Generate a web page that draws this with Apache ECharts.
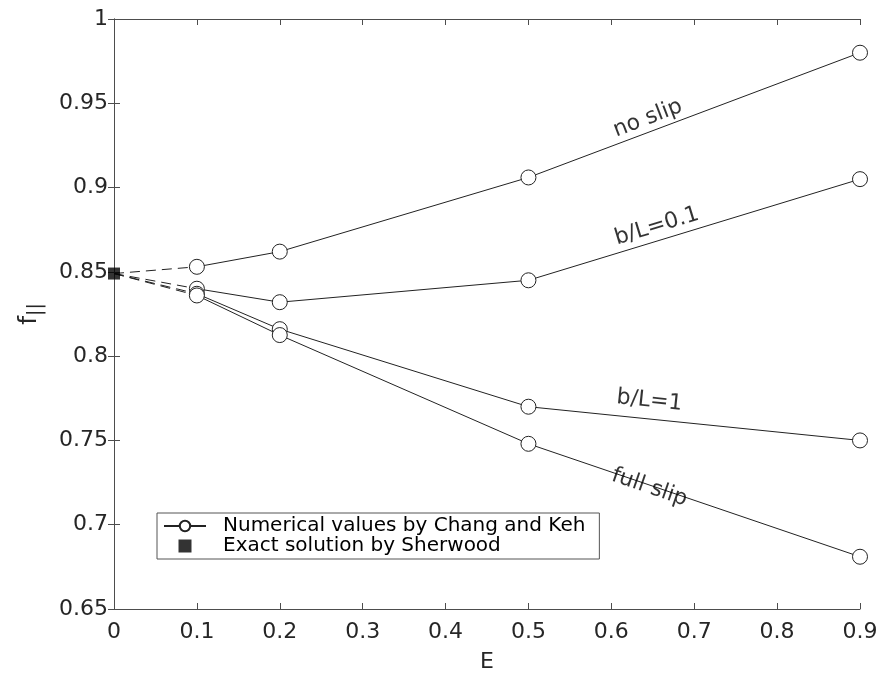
<!DOCTYPE html>
<html><head><meta charset="utf-8">
<script src="https://cdn.jsdelivr.net/npm/echarts@6/dist/echarts.min.js"></script>
<style>html,body{margin:0;padding:0;background:#fff}#c{width:883px;height:682px}</style>
</head><body><div id="c"></div>
<script>
const xValues = [0.1, 0.2, 0.5, 0.9];
const noSlip = [0.853, 0.862, 0.906, 0.980];
const bL01 = [0.840, 0.832, 0.845, 0.905];
const bL1 = [0.837, 0.816, 0.770, 0.750];
const fullSlip = [0.836, 0.8125, 0.748, 0.681];
const exactX = 0;
const exactValue = 0.849;
const xTicks = [0, 0.1, 0.2, 0.3, 0.4, 0.5, 0.6, 0.7, 0.8, 0.9];
const yTicks = [0.65, 0.7, 0.75, 0.8, 0.85, 0.9, 0.95, 1];
const curveNames = ['no slip', 'b/L=0.1', 'b/L=1', 'full slip'];
const curveData = [noSlip, bL01, bL1, fullSlip];
const labelAnchors = [[0.644, 0.941], [0.655, 0.877], [0.646, 0.7735], [0.646, 0.722]];
const labelRotations = [21, 17, -6, -19];
const numName = 'Numerical values by Chang and Keh';
const exactName = 'Exact solution by Sherwood';

const FONT = 'DejaVu Sans';
const TXT = '#262626';
const LINE = '#222222';
const AX = '#4d4d4d';

const series = [];
curveData.forEach((vals) => {
  series.push({
    name: numName, type: 'line', data: xValues.map((x, i) => [x, vals[i]]),
    symbol: 'circle', symbolSize: 15, showSymbol: true,
    lineStyle: {color: LINE, width: 1},
    itemStyle: {color: '#fff', borderColor: LINE, borderWidth: 1},
    z: 3, animation: false
  });
  series.push({
    name: 'dash', type: 'line', data: [[exactX, exactValue], [xValues[0], vals[0]]],
    symbol: 'none', lineStyle: {color: LINE, width: 1, type: [10, 6]}, z: 2, animation: false
  });
});
series.push({
  name: exactName, type: 'scatter', data: [[exactX, exactValue]],
  symbol: 'rect', symbolSize: 12, itemStyle: {color: '#000'}, z: 5, animation: false
});
curveNames.forEach((nm, i) => {
  series.push({
    name: 'lbl' + i, type: 'scatter', data: [labelAnchors[i]], symbolSize: 0,
    label: {show: true, formatter: nm, position: 'inside', rotate: labelRotations[i],
      fontFamily: FONT, fontSize: 22, color: '#000'},
    silent: true, animation: false, z: 6
  });
});

const chart = echarts.init(document.getElementById('c'), null, {renderer: 'canvas'});
chart.setOption({
  animation: false,
  backgroundColor: '#fff',
  grid: {left: 114, right: 23, top: 19, bottom: 73},
  legend: {
    data: [numName, {name: exactName, icon: 'path://M0,0L10,0L10,10L0,10Z', itemStyle: {color: '#000'}}],
    orient: 'vertical', left: 157, top: 513, symbolKeepAspect: true,
    backgroundColor: '#fff', borderColor: '#555', borderWidth: 1, padding: [3, 14, 3, 6],
    itemWidth: 42, itemHeight: 13, itemGap: 0,
    textStyle: {fontFamily: FONT, fontSize: 20, color: '#000', padding: [0, 0, 0, 12], lineHeight: 20}
  },
  xAxis: [{
    type: 'value', min: 0, max: 0.9, interval: 0.1, name: 'E', nameLocation: 'middle', nameGap: 42,
    nameTextStyle: {fontFamily: FONT, fontSize: 22, color: TXT},
    axisLine: {lineStyle: {color: AX}}, axisTick: {inside: true, length: 6, lineStyle: {color: AX}},
    axisLabel: {fontFamily: FONT, fontSize: 22, color: TXT, margin: 12,
      formatter: v => xTicks.includes(Math.round(v*10)/10) ? String(Math.round(v*10)/10) : ''},
    splitLine: {show: false}
  }, {
    type: 'value', position: 'top', min: 0, max: 0.9, interval: 0.1,
    axisLine: {show: true, lineStyle: {color: AX}}, axisTick: {show: true, inside: true, length: 6, lineStyle: {color: AX}},
    axisLabel: {show: false}, splitLine: {show: false}
  }],
  yAxis: [{
    type: 'value', min: 0.65, max: 1, interval: 0.05,
    name: 'f{s|||}', nameLocation: 'middle', nameGap: 68, nameRotate: 90,
    nameTextStyle: {fontFamily: FONT, fontSize: 25, color: TXT, rich: {s: {fontFamily: FONT, fontSize: 19, color: TXT, padding: [14, 0, 0, 0]}}},
    axisLine: {lineStyle: {color: AX}}, axisTick: {inside: true, length: 6, lineStyle: {color: AX}},
    axisLabel: {fontFamily: FONT, fontSize: 22, color: TXT, margin: 6,
      formatter: v => String(parseFloat(v.toFixed(2)))},
    splitLine: {show: false}
  }, {
    type: 'value', position: 'right', min: 0.65, max: 1, interval: 0.05,
    axisLine: {show: true, lineStyle: {color: AX}}, axisTick: {show: true, inside: true, length: 6, lineStyle: {color: AX}},
    axisLabel: {show: false}, splitLine: {show: false}
  }],
  series: series
});
</script>
</body></html>
